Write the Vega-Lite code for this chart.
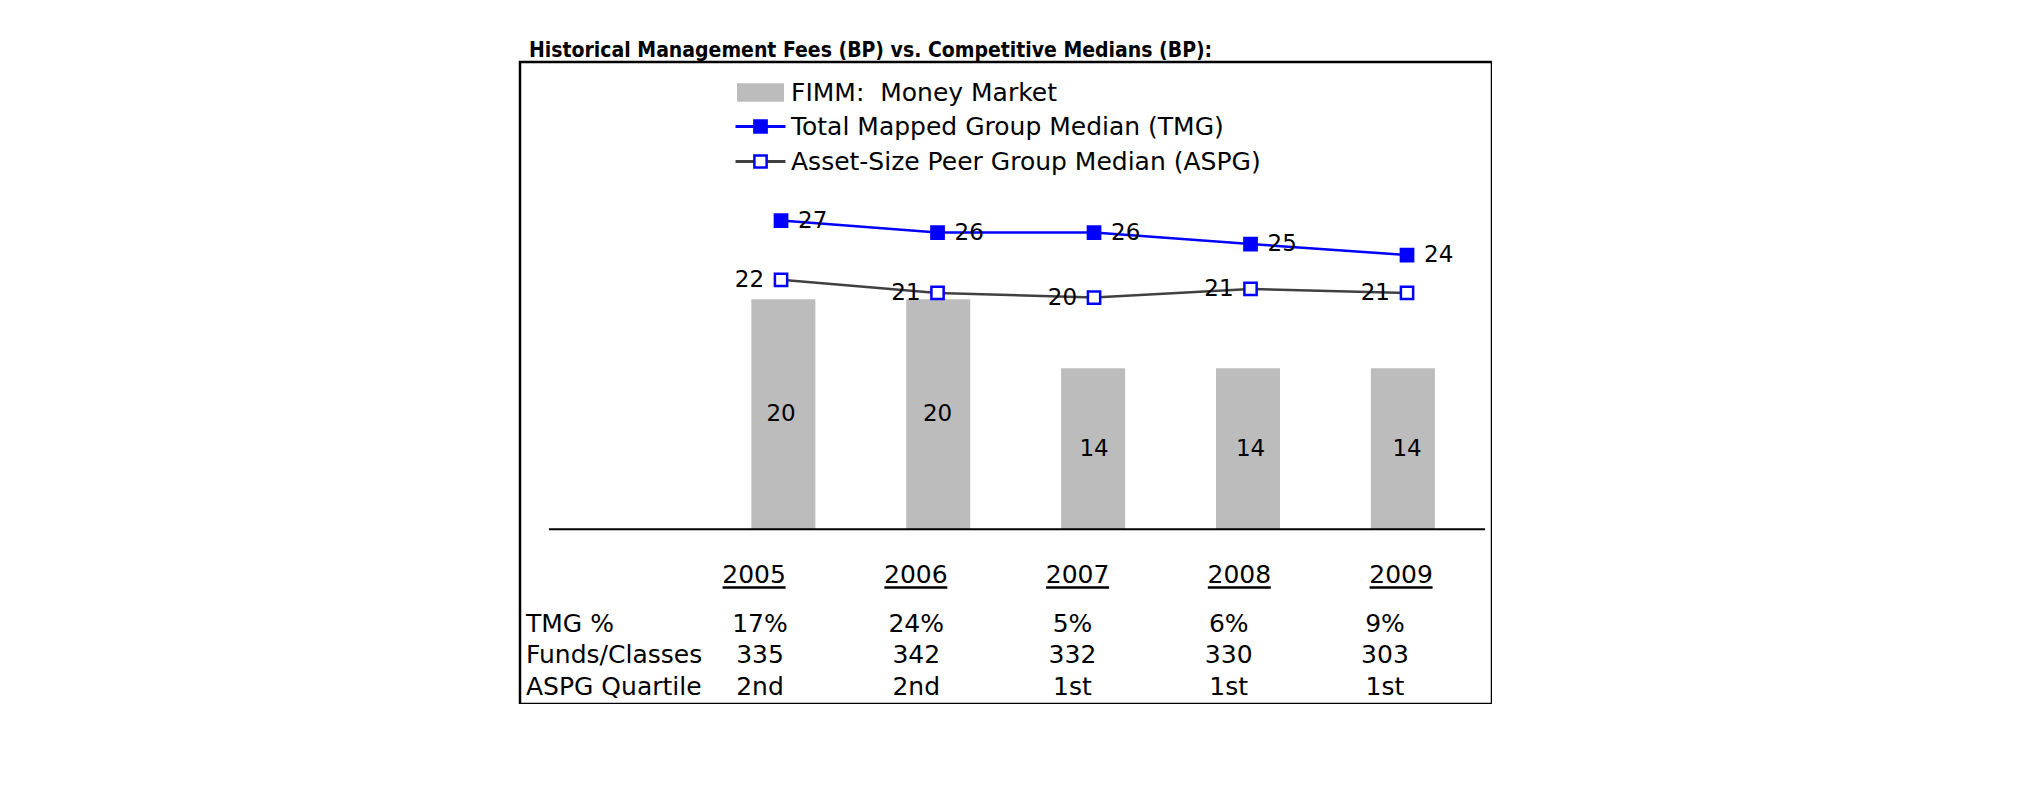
{
  "$schema": "https://vega.github.io/schema/vega-lite/v6.json",
  "width": 972,
  "height": 642,
  "autosize": {"type": "none"},
  "padding": {"left": 520, "top": 62, "right": 0, "bottom": 0},
  "background": "white",
  "title": {
    "text": "Historical Management Fees (BP) vs. Competitive Medians (BP):",
    "anchor": "start",
    "frame": "group",
    "font": "DejaVu Sans Condensed, DejaVu Sans",
    "fontSize": 21,
    "fontWeight": "bold",
    "color": "black",
    "baseline": "alphabetic",
    "dx": 9,
    "dy": 21,
    "offset": 5
  },
  "config": {
    "view": {"stroke": "black", "strokeWidth": 2.5},
    "font": "DejaVu Sans",
    "text": {"font": "DejaVu Sans", "color": "black"},
    "legend": {
      "orient": "none",
      "labelFont": "DejaVu Sans",
      "labelFontSize": 25,
      "labelColor": "black",
      "labelLimit": 1000,
      "rowPadding": 9,
      "padding": 0,
      "offset": 0
    }
  },
  "datasets": {
    "fees": [
      {"year": 2005, "fimm": 20},
      {"year": 2006, "fimm": 20},
      {"year": 2007, "fimm": 14},
      {"year": 2008, "fimm": 14},
      {"year": 2009, "fimm": 14}
    ],
    "medians": [
      {"year": 2005, "series": "Total Mapped Group Median (TMG)", "value": 26.85},
      {"year": 2006, "series": "Total Mapped Group Median (TMG)", "value": 25.8},
      {"year": 2007, "series": "Total Mapped Group Median (TMG)", "value": 25.8},
      {"year": 2008, "series": "Total Mapped Group Median (TMG)", "value": 24.8},
      {"year": 2009, "series": "Total Mapped Group Median (TMG)", "value": 23.85},
      {"year": 2005, "series": "Asset-Size Peer Group Median (ASPG)", "value": 21.7},
      {"year": 2006, "series": "Asset-Size Peer Group Median (ASPG)", "value": 20.55},
      {"year": 2007, "series": "Asset-Size Peer Group Median (ASPG)", "value": 20.15},
      {"year": 2008, "series": "Asset-Size Peer Group Median (ASPG)", "value": 20.9},
      {"year": 2009, "series": "Asset-Size Peer Group Median (ASPG)", "value": 20.55}
    ],
    "table": [
      {"year": 2005, "row": "TMG %", "text": "17%"},
      {"year": 2006, "row": "TMG %", "text": "24%"},
      {"year": 2007, "row": "TMG %", "text": "5%"},
      {"year": 2008, "row": "TMG %", "text": "6%"},
      {"year": 2009, "row": "TMG %", "text": "9%"},
      {"year": 2005, "row": "Funds/Classes", "text": "335"},
      {"year": 2006, "row": "Funds/Classes", "text": "342"},
      {"year": 2007, "row": "Funds/Classes", "text": "332"},
      {"year": 2008, "row": "Funds/Classes", "text": "330"},
      {"year": 2009, "row": "Funds/Classes", "text": "303"},
      {"year": 2005, "row": "ASPG Quartile", "text": "2nd"},
      {"year": 2006, "row": "ASPG Quartile", "text": "2nd"},
      {"year": 2007, "row": "ASPG Quartile", "text": "1st"},
      {"year": 2008, "row": "ASPG Quartile", "text": "1st"},
      {"year": 2009, "row": "ASPG Quartile", "text": "1st"}
    ],
    "rowlabels": [
      {"row": "TMG %"},
      {"row": "Funds/Classes"},
      {"row": "ASPG Quartile"}
    ]
  },
  "resolve": {"scale": {"x": "independent", "y": "independent"}},
  "layer": [
    {
      "data": {"name": "fees"},
      "mark": {"type": "bar", "width": 64},
      "encoding": {
        "x": {"field": "year", "type": "quantitative", "scale": {"domain": [2003.332, 2009.543], "nice": false, "zero": false}, "axis": null},
        "y": {"field": "fimm", "type": "quantitative", "scale": {"domain": [-15.191, 40.635], "nice": false, "zero": false}, "axis": null},
        "color": {
          "datum": "FIMM:\u00a0 Money Market",
          "scale": {"range": ["#bcbcbc"]},
          "legend": {"title": null, "legendX": 228, "legendY": 18, "symbolType": "M-4,-1.57H4V1.57H-4Z", "symbolSize": 138, "symbolStrokeWidth": 0, "labelOffset": 18, "zindex": 1}
        }
      }
    },
    {
      "data": {"name": "fees"},
      "mark": {"type": "text", "fontSize": 23, "baseline": "middle", "align": "center"},
      "encoding": {
        "x": {"field": "year", "type": "quantitative", "scale": {"domain": [2003.332, 2009.543], "nice": false, "zero": false}, "axis": null},
        "y": {"field": "fimm", "type": "quantitative", "scale": {"domain": [-30.382, 81.27], "nice": false, "zero": false}, "axis": null},
        "text": {"field": "fimm", "type": "quantitative"}
      }
    },
    {
      "data": {"name": "medians"},
      "mark": {"type": "line", "strokeWidth": 2.5},
      "encoding": {
        "x": {"field": "year", "type": "quantitative", "scale": {"domain": [2003.332, 2009.543], "nice": false, "zero": false}, "axis": null},
        "y": {"field": "value", "type": "quantitative", "scale": {"domain": [-15.191, 40.635], "nice": false, "zero": false}, "axis": null},
        "stroke": {
          "field": "series",
          "type": "nominal",
          "scale": {"domain": ["Total Mapped Group Median (TMG)", "Asset-Size Peer Group Median (ASPG)"], "range": ["#0000ff", "#404040"]},
          "legend": {"title": null, "legendX": 228, "legendY": 52, "symbolType": "M-4,0H4", "symbolSize": 156, "symbolStrokeWidth": 3, "labelOffset": 18, "zindex": 1}
        }
      }
    },
    {
      "data": {"name": "medians"},
      "mark": {"type": "point", "shape": "square", "filled": true, "stroke": "#0000ff", "strokeWidth": 2.5, "opacity": 1, "size": 150},
      "encoding": {
        "x": {"field": "year", "type": "quantitative", "scale": {"domain": [2003.332, 2009.543], "nice": false, "zero": false}, "axis": null},
        "y": {"field": "value", "type": "quantitative", "scale": {"domain": [-15.191, 40.635], "nice": false, "zero": false}, "axis": null},
        "fill": {
          "field": "series",
          "type": "nominal",
          "sort": null,
          "scale": {"range": ["#0000ff", "#ffffff"]},
          "legend": {"title": null, "legendX": 228, "legendY": 52, "symbolType": "square", "symbolSize": 150, "symbolStrokeColor": "#0000ff", "symbolStrokeWidth": 2.5, "labelOffset": 18, "labelOpacity": 0, "zindex": 2}
        }
      }
    },
    {
      "data": {"name": "medians"},
      "transform": [{"filter": "datum.series === 'Total Mapped Group Median (TMG)'"}],
      "mark": {"type": "text", "fontSize": 23, "baseline": "middle", "align": "left", "dx": 17},
      "encoding": {
        "x": {"field": "year", "type": "quantitative", "scale": {"domain": [2003.332, 2009.543], "nice": false, "zero": false}, "axis": null},
        "y": {"field": "value", "type": "quantitative", "scale": {"domain": [-15.191, 40.635], "nice": false, "zero": false}, "axis": null},
        "text": {"field": "value", "type": "quantitative", "format": ".0f"}
      }
    },
    {
      "data": {"name": "medians"},
      "transform": [{"filter": "datum.series === 'Asset-Size Peer Group Median (ASPG)'"}],
      "mark": {"type": "text", "fontSize": 23, "baseline": "middle", "align": "right", "dx": -17},
      "encoding": {
        "x": {"field": "year", "type": "quantitative", "scale": {"domain": [2003.332, 2009.543], "nice": false, "zero": false}, "axis": null},
        "y": {"field": "value", "type": "quantitative", "scale": {"domain": [-15.191, 40.635], "nice": false, "zero": false}, "axis": null},
        "text": {"field": "value", "type": "quantitative", "format": ".0f"}
      }
    },
    {
      "data": {"values": [{}]},
      "mark": {"type": "rule", "color": "black", "strokeWidth": 2},
      "encoding": {
        "x": {"datum": 2003.517, "type": "quantitative", "scale": {"domain": [2003.332, 2009.543], "nice": false, "zero": false}, "axis": null},
        "x2": {"datum": 2009.498},
        "y": {"datum": 0, "type": "quantitative", "scale": {"domain": [-15.191, 40.635], "nice": false, "zero": false}, "axis": null}
      }
    },
    {
      "data": {"name": "fees"},
      "mark": {"type": "text", "fontSize": 25, "baseline": "middle", "align": "center", "dy": -13},
      "encoding": {
        "x": {"field": "year", "type": "quantitative", "scale": {"domain": [2003.553, 2009.562], "nice": false, "zero": false}, "axis": null},
        "y": {"datum": "year", "type": "nominal", "scale": {"type": "point", "domain": ["year", "TMG %", "Funds/Classes", "ASPG Quartile"], "range": [525.6, 625.1], "padding": 0}, "axis": null},
        "text": {"field": "year", "type": "nominal"}
      }
    },
    {
      "data": {"name": "fees"},
      "mark": {"type": "tick", "orient": "horizontal", "size": 63, "thickness": 2.5, "color": "black", "opacity": 1},
      "encoding": {
        "x": {"field": "year", "type": "quantitative", "scale": {"domain": [2003.553, 2009.562], "nice": false, "zero": false}, "axis": null},
        "y": {"datum": "year", "type": "nominal", "scale": {"type": "point", "domain": ["year", "TMG %", "Funds/Classes", "ASPG Quartile"], "range": [525.6, 625.1], "padding": 0}, "axis": null}
      }
    },
    {
      "data": {"name": "table"},
      "mark": {"type": "text", "fontSize": 25, "baseline": "middle", "align": "center"},
      "encoding": {
        "x": {"field": "year", "type": "quantitative", "scale": {"domain": [2003.464, 2009.685], "nice": false, "zero": false}, "axis": null},
        "y": {"field": "row", "type": "nominal", "scale": {"type": "point", "domain": ["year", "TMG %", "Funds/Classes", "ASPG Quartile"], "range": [530.15, 625.1], "padding": 0}, "axis": null},
        "text": {"field": "text", "type": "nominal"}
      }
    },
    {
      "data": {"name": "rowlabels"},
      "mark": {"type": "text", "fontSize": 25, "baseline": "middle", "align": "left", "dx": 6},
      "encoding": {
        "x": {"datum": 2003.464, "type": "quantitative", "scale": {"domain": [2003.464, 2009.685], "nice": false, "zero": false}, "axis": null},
        "y": {"field": "row", "type": "nominal", "scale": {"type": "point", "domain": ["year", "TMG %", "Funds/Classes", "ASPG Quartile"], "range": [530.15, 625.1], "padding": 0}, "axis": null},
        "text": {"field": "row", "type": "nominal"}
      }
    }
  ]
}
